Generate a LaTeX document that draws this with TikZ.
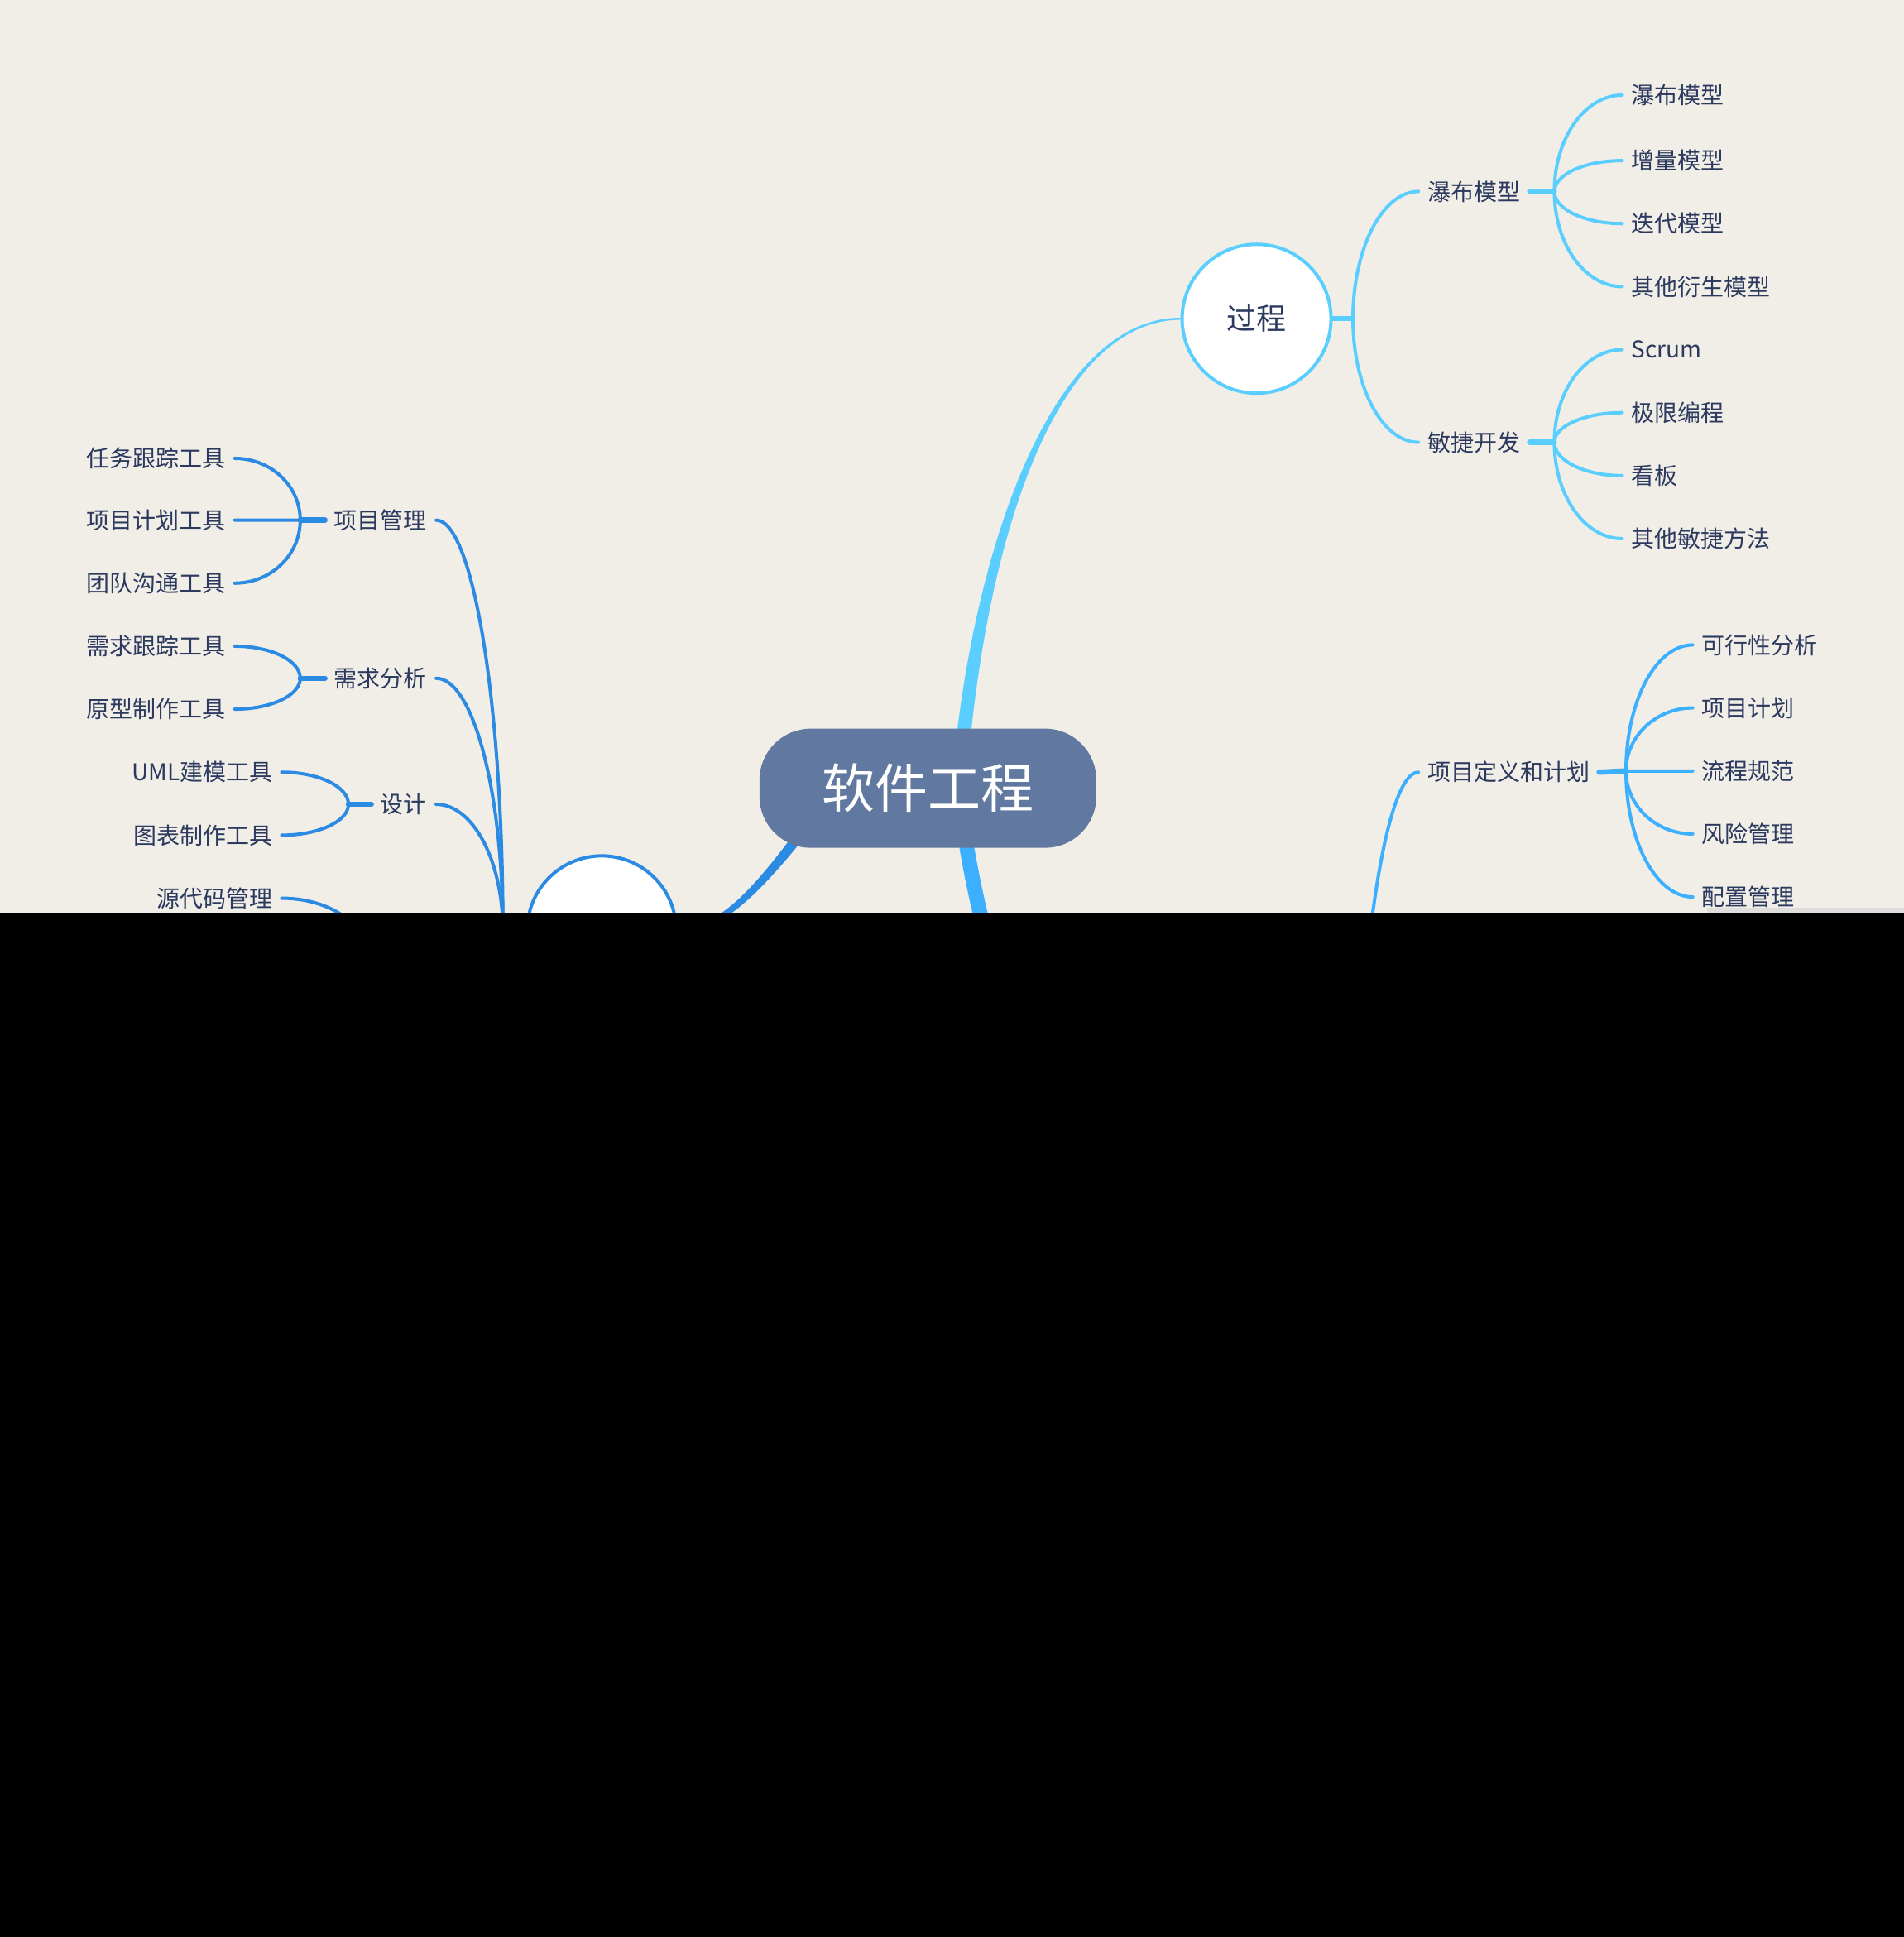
\documentclass[tikz,border=0pt]{standalone}
\usepackage{fontspec}
\setmainfont{Noto Sans CJK SC}
\usetikzlibrary{calc}
\definecolor{bg}{HTML}{F1EDE7}
\definecolor{cyanA}{HTML}{5ACEFF}
\definecolor{blueB}{HTML}{3CB0FF}
\definecolor{blueL}{HTML}{2B8AE2}
\definecolor{txt}{HTML}{2B3A5E}
\definecolor{rootfill}{HTML}{6179A0}
\definecolor{strip}{HTML}{E0DEDC}
\newcommand\mmlink[3]{\draw[#1] (#2) .. controls ($(#2)!0.552!(#2|-#3)$) and ($(#3)!0.552!(#2|-#3)$) .. (#3);}
\tikzset{
  lbl/.style={font=\fontsize{28}{30}\selectfont, text=txt, inner xsep=11pt, inner ysep=0pt},
  circnode/.style={circle, fill=white, line width=4pt, minimum size=180pt, inner sep=0pt, font=\fontsize{36}{40}\selectfont, text=txt},
  rootnode/.style={fill=rootfill, rounded corners=62pt, minimum width=407pt, minimum height=144pt, inner sep=0pt, text=white, font=\fontsize{64}{70}\selectfont},
  lineC/.style={draw=cyanA, line width=4pt, line cap=round},
  lineB/.style={draw=blueB, line width=4pt, line cap=round},
  lineL/.style={draw=blueL, line width=4pt, line cap=round},
  stubC/.style={draw=cyanA, line width=6.5pt, line cap=round},
  stubB/.style={draw=blueB, line width=6.5pt, line cap=round},
  stubL/.style={draw=blueL, line width=6.5pt, line cap=round}
}
\begin{document}
\begin{tikzpicture}[x=1.4932pt, y=-1.4932pt]
\fill[bg] (0,0) rectangle (1541,1567.8);
\useasboundingbox (0,0) rectangle (1541,1567.8);

% tapered main branches
\fill[cyanA] (770,638) .. controls (785,450) and (850,256.5) .. (956,257.2) -- (956,258.8) .. controls (850,259.5) and (795,450) .. (782,638) -- cycle;
\fill[blueB] (770,638) .. controls (776,700) and (794,781) .. (824,862) -- (836,858) .. controls (806,779) and (788,700) .. (782,638) -- cycle;
\fill[blueL] (703.9,613.1) .. controls (643.9,683.1) and (600,756) .. (549,754.5) -- (549,751.5) .. controls (600,750) and (636.1,676.9) .. (696.1,606.9) -- cycle;

% root
\node[rootnode] (root) at (751,638) {软件工程};

% ===== right upper: 过程 =====
\node[circnode, draw=cyanA] (guocheng) at (1017,258) {过程};
\coordinate (gcJ) at (1095,258);
\draw[stubC] (guocheng.east) -- (gcJ);
\node[lbl, anchor=west] (pbmx) at (1148,155) {瀑布模型};
\node[lbl, anchor=west] (mjkf) at (1148,358) {敏捷开发};
\mmlink{lineC}{gcJ}{pbmx.west}
\mmlink{lineC}{gcJ}{mjkf.west}

\coordinate (pbJ) at (1258,155);
\draw[stubC] (pbmx.east) -- (pbJ);
\node[lbl, anchor=west] (p1) at (1313,77) {瀑布模型};
\node[lbl, anchor=west] (p2) at (1313,130) {增量模型};
\node[lbl, anchor=west] (p3) at (1313,181) {迭代模型};
\node[lbl, anchor=west] (p4) at (1313,232) {其他衍生模型};
\foreach \n in {p1,p2,p3,p4} {\mmlink{lineC}{pbJ}{\n.west}}

\coordinate (mjJ) at (1258,358);
\draw[stubC] (mjkf.east) -- (mjJ);
\node[lbl, anchor=west] (m1) at (1313,283) {Scrum};
\node[lbl, anchor=west] (m2) at (1313,334) {极限编程};
\node[lbl, anchor=west] (m3) at (1313,385) {看板};
\node[lbl, anchor=west] (m4) at (1313,436) {其他敏捷方法};
\foreach \n in {m1,m2,m3,m4} {\mmlink{lineC}{mjJ}{\n.west}}

% ===== right lower: 项目定义和计划 =====
\coordinate (lowJ) at (1095,1026);
\node[lbl, anchor=west] (xmdy) at (1148,625) {项目定义和计划};
\mmlink{lineB}{lowJ}{xmdy.west}
\coordinate (xdJ) at (1316,624);
\draw[stubB] (xmdy.east) -- (xdJ);
\node[lbl, anchor=west] (d1) at (1370,522) {可行性分析};
\node[lbl, anchor=west] (d2) at (1370,573) {项目计划};
\node[lbl, anchor=west] (d3) at (1370,624) {流程规范};
\node[lbl, anchor=west] (d4) at (1370,675) {风险管理};
\node[lbl, anchor=west] (d5) at (1370,726) {配置管理};
\foreach \n in {d1,d2,d3,d4,d5} {\mmlink{lineB}{xdJ}{\n.west}}

% ===== left =====
\node[circnode, draw=blueL] (leftc) at (487,753) {};
\coordinate (lJ) at (407,753);
\draw[stubL] (leftc.west) -- (lJ);
\node[lbl, anchor=east] (xmgl) at (353,421) {项目管理};
\node[lbl, anchor=east] (xqfx) at (353,549) {需求分析};
\node[lbl, anchor=east] (sheji) at (353,651) {设计};
\mmlink{lineL}{lJ}{xmgl.east}
\mmlink{lineL}{lJ}{xqfx.east}
\mmlink{lineL}{lJ}{sheji.east}

\coordinate (xmJ) at (243,421);
\draw[stubL] (xmgl.west) -- (xmJ);
\node[lbl, anchor=east] (a1) at (190,371) {任务跟踪工具};
\node[lbl, anchor=east] (a2) at (190,421) {项目计划工具};
\node[lbl, anchor=east] (a3) at (190,472) {团队沟通工具};
\foreach \n in {a1,a2,a3} {\mmlink{lineL}{xmJ}{\n.east}}

\coordinate (xqJ) at (243,549);
\draw[stubL] (xqfx.west) -- (xqJ);
\node[lbl, anchor=east] (b1) at (190,523) {需求跟踪工具};
\node[lbl, anchor=east] (b2) at (190,574) {原型制作工具};
\foreach \n in {b1,b2} {\mmlink{lineL}{xqJ}{\n.east}}

\coordinate (sjJ) at (282,651);
\draw[stubL] (sheji.west) -- (sjJ);
\node[lbl, anchor=east] (c1) at (228,625) {UML建模工具};
\node[lbl, anchor=east] (c2) at (228,676) {图表制作工具};
\foreach \n in {c1,c2} {\mmlink{lineL}{sjJ}{\n.east}}

\coordinate (bmJ) at (298,775);
\node[lbl, anchor=east] (e1) at (228,727) {源代码管理};
\mmlink{lineL}{bmJ}{e1.east}

% ===== covered lower part =====
\fill[strip] (1381.6,734.6) rectangle (1541,739.3);
\fill[black] (0,739.3) rectangle (1541,1567.8);
\end{tikzpicture}
\end{document}
